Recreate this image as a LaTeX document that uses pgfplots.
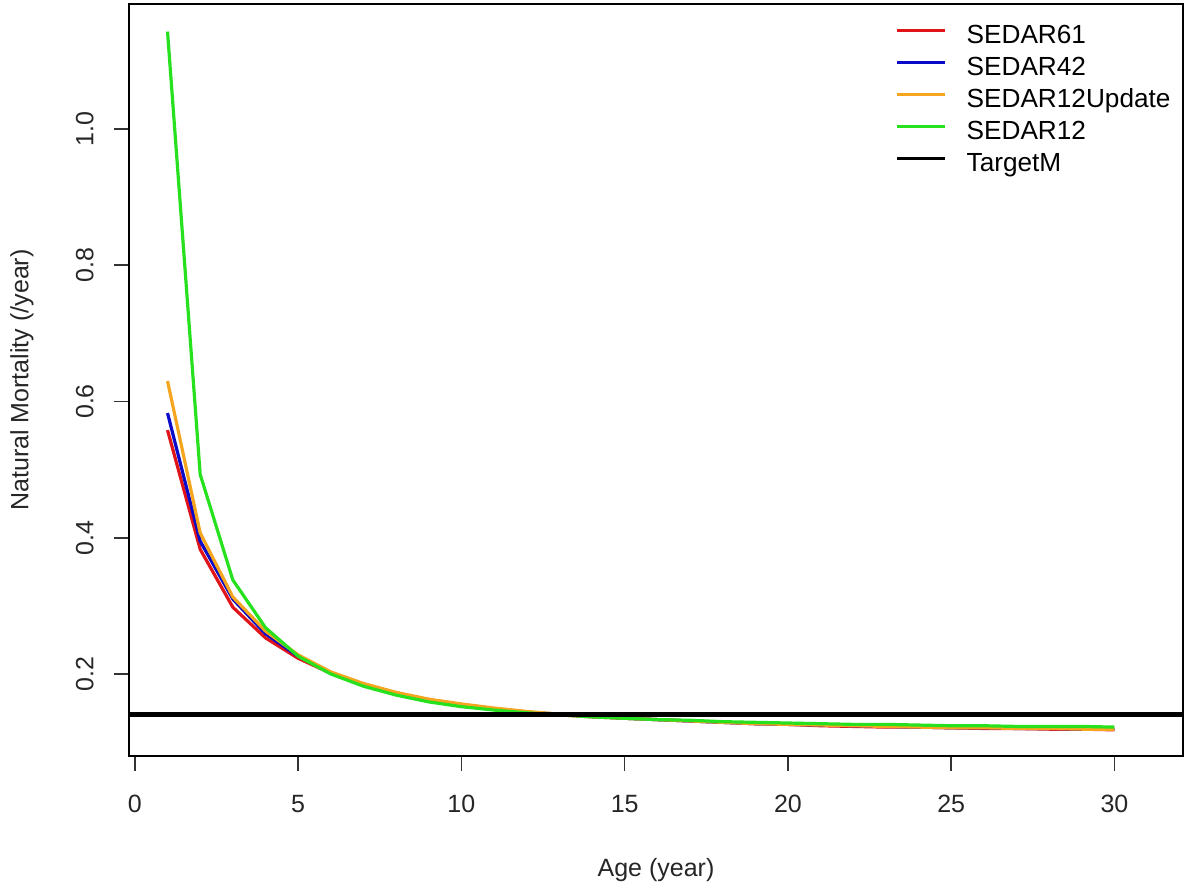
\documentclass[border=0pt]{standalone}
\usepackage{fontspec}
\setmainfont{Liberation Sans}
\usepackage{pgfplots}
\pgfplotsset{compat=1.18}
\definecolor{rred}{RGB}{225,20,25}
\definecolor{rblue}{RGB}{10,10,200}
\definecolor{rorange}{RGB}{245,165,30}
\definecolor{rgreen}{RGB}{40,225,30}
\begin{document}
\begin{tikzpicture}
\begin{axis}[
  scale only axis,
  width=527pt, height=376pt,
  xmin=-0.18, xmax=32.1,
  ymin=0.0796, ymax=1.1835,
  axis line style={line width=0.8pt},
  tick style={line width=0.8pt, black!80},
  tick align=outside,
  tick pos=left,
  major tick length=7.5pt,
  xtick={0,5,10,15,20,25,30},
  ytick={0.2,0.4,0.6,0.8,1.0},
  /pgf/number format/assume math mode=true,
  ticklabel style={font=\fontsize{12.5}{15}\selectfont, text=black!85},
  yticklabel style={rotate=90, anchor=south, inner sep=0pt,
    /pgf/number format/.cd, fixed, fixed zerofill, precision=1},
  xticklabel style={anchor=north, inner sep=0pt},
  xticklabel shift=12pt,
  yticklabel shift=10pt,
  xlabel={Age (year)},
  ylabel={Natural Mortality (/year)},
  label style={font=\fontsize{12.5}{15}\selectfont, text=black!85, inner sep=0pt},
  x label style={at={(axis description cs:0.5,-0.1356)}, anchor=north},
  y label style={at={(axis description cs:-0.1015,0.5)}, anchor=center, rotate=0},
  legend style={draw=none, fill=none, at={(axis description cs:0.7211,0.9787)},
    anchor=north west, font=\fontsize{13.1}{15}\selectfont,
    nodes={inner sep=0pt, text height=9.7pt, text depth=3pt, anchor=west},
    row sep=3.3pt, column sep=10pt},
  legend cell align=left,
  legend image code/.code={\draw[#1] (0pt,3.5pt) -- (24pt,3.5pt);},
  clip=false,
]
\addplot[rred, line width=1.6pt] coordinates {
(1,0.558) (2,0.383) (3,0.298) (4,0.253) (5,0.223) (6,0.201) (7,0.185) (8,0.172) (9,0.162) (10,0.155)
(11,0.149) (12,0.144) (13,0.140) (14,0.137) (15,0.135) (16,0.133) (17,0.131) (18,0.129) (19,0.127) (20,0.126)
(21,0.124) (22,0.123) (23,0.122) (24,0.122) (25,0.121) (26,0.120) (27,0.120) (28,0.119) (29,0.119) (30,0.118)};
\addlegendentry{SEDAR61}
\addplot[rblue, line width=1.6pt] coordinates {
(1,0.583) (2,0.395) (3,0.310) (4,0.259) (5,0.226) (6,0.202) (7,0.185) (8,0.172) (9,0.162) (10,0.155)
(11,0.149) (12,0.144) (13,0.141) (14,0.138) (15,0.135) (16,0.133) (17,0.131) (18,0.129) (19,0.127) (20,0.126)
(21,0.125) (22,0.124) (23,0.123) (24,0.122) (25,0.121) (26,0.121) (27,0.120) (28,0.120) (29,0.119) (30,0.119)};
\addlegendentry{SEDAR42}
\addplot[rorange, line width=1.6pt] coordinates {
(1,0.630) (2,0.407) (3,0.313) (4,0.263) (5,0.228) (6,0.203) (7,0.186) (8,0.173) (9,0.163) (10,0.156)
(11,0.150) (12,0.145) (13,0.141) (14,0.138) (15,0.135) (16,0.133) (17,0.131) (18,0.129) (19,0.127) (20,0.126)
(21,0.125) (22,0.124) (23,0.123) (24,0.122) (25,0.121) (26,0.121) (27,0.120) (28,0.120) (29,0.119) (30,0.119)};
\addlegendentry{SEDAR12Update}
\addplot[rgreen, line width=1.6pt] coordinates {
(1,1.143) (2,0.493) (3,0.338) (4,0.268) (5,0.226) (6,0.200) (7,0.182) (8,0.169) (9,0.159) (10,0.152)
(11,0.147) (12,0.143) (13,0.140) (14,0.137) (15,0.135) (16,0.133) (17,0.132) (18,0.130) (19,0.129) (20,0.128)
(21,0.127) (22,0.126) (23,0.126) (24,0.125) (25,0.124) (26,0.124) (27,0.123) (28,0.123) (29,0.123) (30,0.122)};
\addlegendentry{SEDAR12}
\addplot[black, line width=2.5pt, forget plot] coordinates {(-0.18,0.14) (32.1,0.14)};
\addlegendimage{black, line width=1.6pt}
\addlegendentry{TargetM}
\coordinate (sw) at (rel axis cs:0,0);
\coordinate (ne) at (rel axis cs:1,1);
\end{axis}
\pgfresetboundingbox
\path (sw) ++(-64.5pt,-65pt) coordinate (bl);
\path (ne) ++(0.5pt,2pt) coordinate (tr);
\useasboundingbox (bl) rectangle (tr);
\end{tikzpicture}
\end{document}
